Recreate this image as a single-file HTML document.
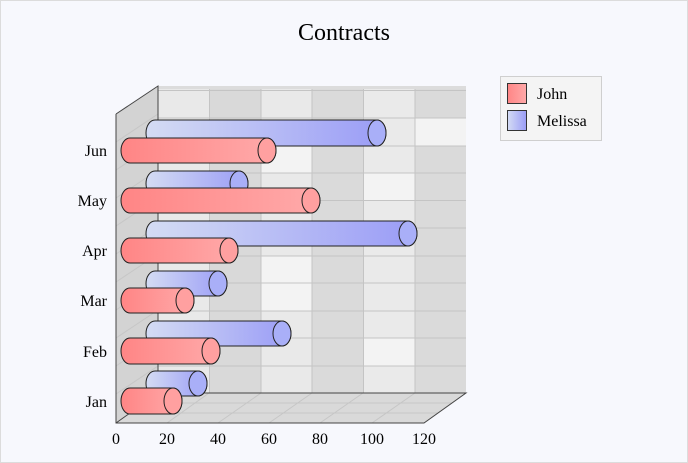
<!DOCTYPE html>
<html><head><meta charset="utf-8"><style>
html,body{margin:0;padding:0;background:#fff;font-family:"Liberation Serif","Times New Roman",serif}
svg{display:block;font-family:"Liberation Serif","Times New Roman",serif}
svg text{font-family:"Liberation Serif","Times New Roman",serif;fill:#000}
</style></head><body>
<svg width="688" height="463" viewBox="0 0 688 463" xmlns="http://www.w3.org/2000/svg" font-family="Liberation Serif, serif">
<defs>
<linearGradient id="rg" x1="0" y1="0" x2="1" y2="0"><stop offset="0" stop-color="#ff8585"/><stop offset="1" stop-color="#ffaaaa"/></linearGradient>
<linearGradient id="bg" x1="0" y1="0" x2="1" y2="0"><stop offset="0" stop-color="#d4dcf4"/><stop offset="1" stop-color="#9a9cf6"/></linearGradient>
</defs>
<rect x="0.5" y="0.5" width="687" height="462" fill="#f7f8fd" stroke="#dcdcdc"/>
<text x="344" y="40" font-size="24" text-anchor="middle" font-family="Liberation Serif, serif">Contracts</text>
<g>
<rect x="158" y="86" width="51" height="307" fill="#e9e9e9"/>
<rect x="209" y="86" width="52" height="307" fill="#d9d9d9"/>
<rect x="261" y="86" width="51" height="307" fill="#e9e9e9"/>
<rect x="312" y="86" width="51" height="307" fill="#dadada"/>
<rect x="363" y="86" width="52" height="307" fill="#eaeaea"/>
<rect x="415" y="86" width="51" height="307" fill="#dadada"/>
<rect x="415" y="118" width="51" height="28" fill="#f3f3f3"/>
<rect x="363" y="173" width="52" height="28" fill="#f3f3f3"/>
<rect x="261" y="256" width="51" height="55" fill="#f3f3f3"/>
<rect x="363" y="338" width="52" height="28" fill="#f3f3f3"/>
<rect x="261" y="146" width="51" height="27" fill="#f3f3f3"/>
<g stroke="#c4c4c4" stroke-width="1">
<path d="M209.5 86V393M261 86V393M312 86V393M363.5 86V393M415 86V393"/>
<path d="M158 90.5H466M158 118H466M158 146H466M158 173H466M158 200.5H466M158 228H466M158 256H466M158 283H466M158 311H466M158 338H466M158 366H466"/>
</g>
<rect x="158" y="86" width="308" height="3" fill="#dcdcdc"/>
</g>
<polygon points="116,114 158,86 158,393 116,423" fill="#d3d3d3"/>
<g stroke="#c6c6c6"><path d="M116 142L158 114M116 170L158 142M116 198L158 170M116 226L158 198M116 254L158 226M116 282L158 254M116 310L158 282M116 338L158 310M116 366L158 338M116 394L158 366"/></g>
<polygon points="116,423 158,393 466,393 424,423" fill="#d9d9d9"/>
<g stroke="#c6c6c6"><path d="M167 423L209 393M218 423L261 393M269 423L312 393M320 423L363 393M372 423L415 393M130 413H438M144 403H452"/></g>
<g stroke="#444" stroke-width="1" fill="none">
<path d="M116 114L158 86V393M116 114V423H424L466 393H158L116 423"/>
</g>
<g stroke="#222" stroke-width="1">
<path d="M155 120H377A9 13 0 0 1 377 146H155A9 13 0 0 1 155 120Z" fill="url(#bg)"/><ellipse cx="377" cy="133" rx="9" ry="13" fill="#a9aff8"/>
<path d="M130 138H267A9 12.5 0 0 1 267 163H130A9 12.5 0 0 1 130 138Z" fill="url(#rg)"/><ellipse cx="267" cy="150.5" rx="9" ry="12.5" fill="#ffa0a0"/>
<path d="M155 171H239A9 12.5 0 0 1 239 196H155A9 12.5 0 0 1 155 171Z" fill="url(#bg)"/><ellipse cx="239" cy="183.5" rx="9" ry="12.5" fill="#a9aff8"/>
<path d="M130 188H311A9 12.5 0 0 1 311 213H130A9 12.5 0 0 1 130 188Z" fill="url(#rg)"/><ellipse cx="311" cy="200.5" rx="9" ry="12.5" fill="#ffa0a0"/>
<path d="M155 221H408A9 12.5 0 0 1 408 246H155A9 12.5 0 0 1 155 221Z" fill="url(#bg)"/><ellipse cx="408" cy="233.5" rx="9" ry="12.5" fill="#a9aff8"/>
<path d="M130 238H229A9 12.5 0 0 1 229 263H130A9 12.5 0 0 1 130 238Z" fill="url(#rg)"/><ellipse cx="229" cy="250.5" rx="9" ry="12.5" fill="#ffa0a0"/>
<path d="M155 271H218A9 12.5 0 0 1 218 296H155A9 12.5 0 0 1 155 271Z" fill="url(#bg)"/><ellipse cx="218" cy="283.5" rx="9" ry="12.5" fill="#a9aff8"/>
<path d="M130 288H185A9 12.5 0 0 1 185 313H130A9 12.5 0 0 1 130 288Z" fill="url(#rg)"/><ellipse cx="185" cy="300.5" rx="9" ry="12.5" fill="#ffa0a0"/>
<path d="M155 321H282A9 12.5 0 0 1 282 346H155A9 12.5 0 0 1 155 321Z" fill="url(#bg)"/><ellipse cx="282" cy="333.5" rx="9" ry="12.5" fill="#a9aff8"/>
<path d="M130 338H211A9 13 0 0 1 211 364H130A9 13 0 0 1 130 338Z" fill="url(#rg)"/><ellipse cx="211" cy="351" rx="9" ry="13" fill="#ffa0a0"/>
<path d="M155 371H198A9 12.5 0 0 1 198 396H155A9 12.5 0 0 1 155 371Z" fill="url(#bg)"/><ellipse cx="198" cy="383.5" rx="9" ry="12.5" fill="#a9aff8"/>
<path d="M130 388H173A9 13 0 0 1 173 414H130A9 13 0 0 1 130 388Z" fill="url(#rg)"/><ellipse cx="173" cy="401" rx="9" ry="13" fill="#ffa0a0"/>
</g>
<g font-size="16" text-anchor="end" font-family="Liberation Serif, serif">
<text x="107" y="156">Jun</text>
<text x="107" y="206">May</text>
<text x="107" y="256">Apr</text>
<text x="107" y="306">Mar</text>
<text x="107" y="357">Feb</text>
<text x="107" y="407">Jan</text>
</g>
<g font-size="16" text-anchor="middle" font-family="Liberation Serif, serif">
<text x="116" y="444">0</text>
<text x="167" y="444">20</text>
<text x="218" y="444">40</text>
<text x="269" y="444">60</text>
<text x="320" y="444">80</text>
<text x="372" y="444">100</text>
<text x="424" y="444">120</text>
</g>
<rect x="500.5" y="76.5" width="101" height="64" fill="#f4f4f4" stroke="#cfcfcf"/>
<rect x="507.5" y="83.5" width="19" height="20" fill="url(#rg)" stroke="#333"/>
<rect x="507.5" y="110.5" width="19" height="20" fill="url(#bg)" stroke="#333"/>
<text x="537" y="99" font-size="16" font-family="Liberation Serif, serif">John</text>
<text x="537" y="126" font-size="16" font-family="Liberation Serif, serif">Melissa</text>
</svg>
</body></html>
